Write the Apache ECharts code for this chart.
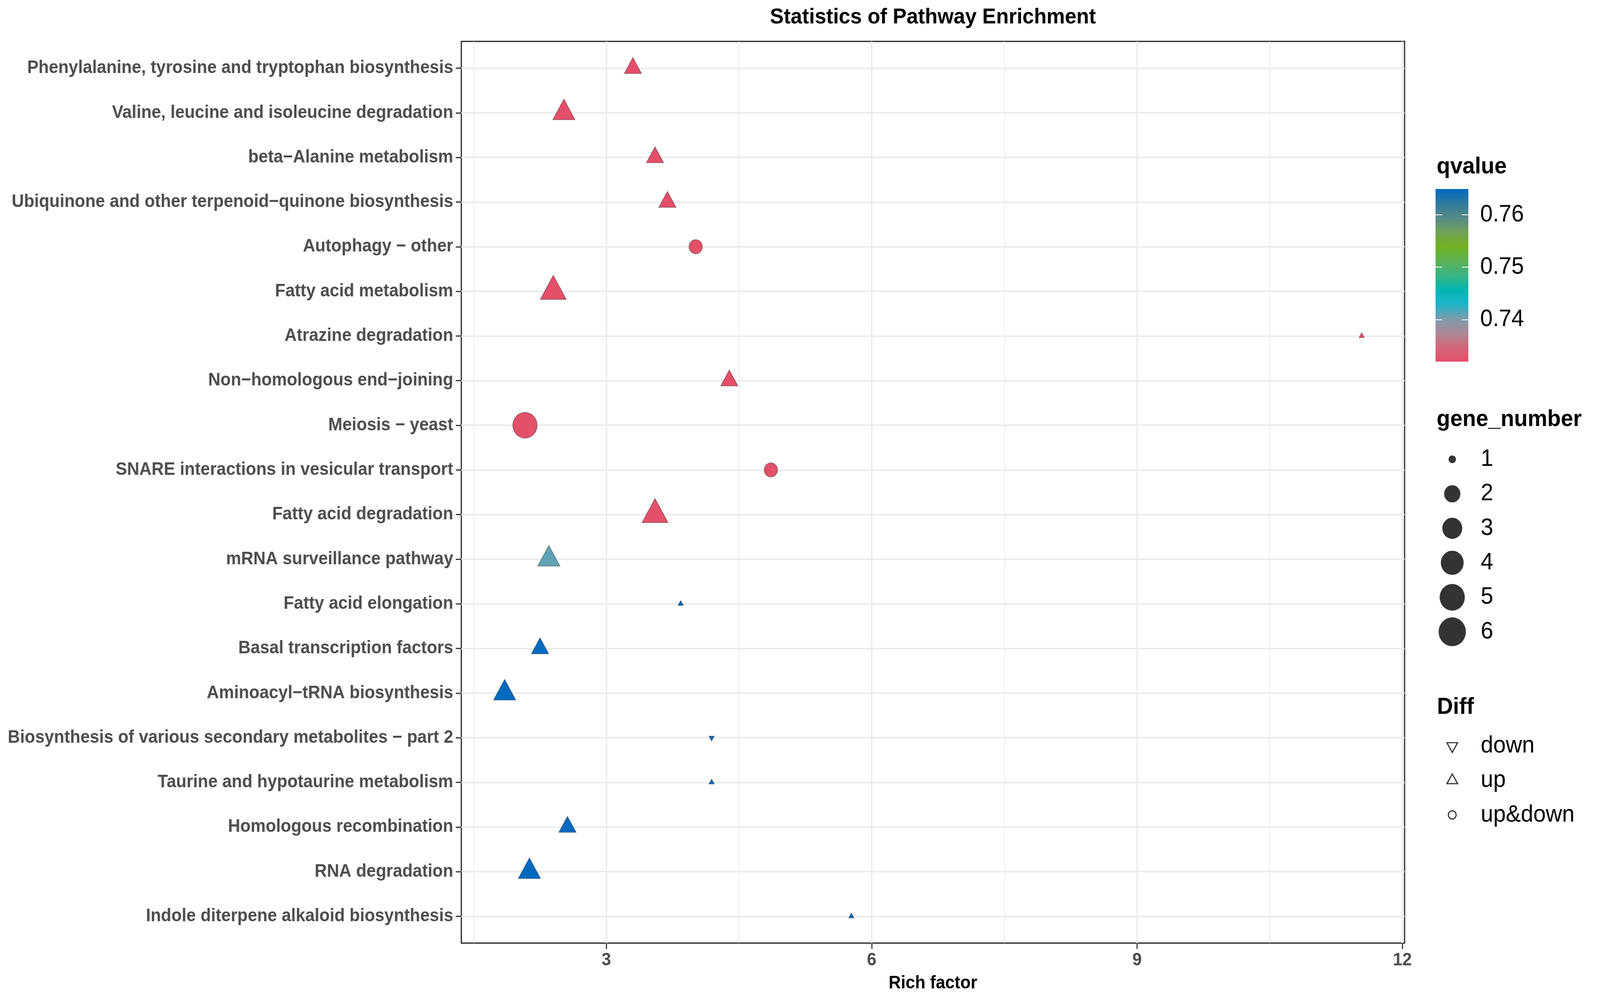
<!DOCTYPE html>
<html><head><meta charset="utf-8">
<script src="https://cdn.jsdelivr.net/npm/echarts@6/dist/echarts.min.js"></script>
<style>html,body{margin:0;padding:0;background:#fff;overflow:hidden}#c{width:4339px;height:2571px;transform-origin:0 0}</style>
</head><body><div id="c"></div>
<script>
// ---------------- data ----------------
const categories = [
  'Phenylalanine, tyrosine and tryptophan biosynthesis',
  'Valine, leucine and isoleucine degradation',
  'beta\u2212Alanine metabolism',
  'Ubiquinone and other terpenoid\u2212quinone biosynthesis',
  'Autophagy \u2212 other',
  'Fatty acid metabolism',
  'Atrazine degradation',
  'Non\u2212homologous end\u2212joining',
  'Meiosis \u2212 yeast',
  'SNARE interactions in vesicular transport',
  'Fatty acid degradation',
  'mRNA surveillance pathway',
  'Fatty acid elongation',
  'Basal transcription factors',
  'Aminoacyl\u2212tRNA biosynthesis',
  'Biosynthesis of various secondary metabolites \u2212 part 2',
  'Taurine and hypotaurine metabolism',
  'Homologous recombination',
  'RNA degradation',
  'Indole diterpene alkaloid biosynthesis'
];
const richFactor = [3.30, 2.52, 3.55, 3.69, 4.01, 2.40, 11.54, 4.39, 2.08, 4.86, 3.55, 2.35, 3.84, 2.25, 1.85, 4.19, 4.19, 2.56, 2.13, 5.77];
const geneNumber = [2, 3, 2, 2, 2, 4, 1, 2, 6, 2, 4, 3, 1, 2, 3, 1, 1, 2, 3, 1];
const qvalue = [0.7320, 0.7320, 0.7320, 0.7320, 0.7320, 0.7320, 0.7320, 0.7320, 0.7320, 0.7320, 0.7320,
                0.7410, 0.7649, 0.7649, 0.7649, 0.7649, 0.7649, 0.7649, 0.7649, 0.7649];
const diff = ['up', 'up', 'up', 'up', 'up&down', 'up', 'up', 'up', 'up&down', 'up&down', 'up', 'up',
              'up', 'up', 'up', 'down', 'up', 'up', 'up', 'up'];
const xTicks = [3, 6, 9, 12];
const xMinorGrid = [1.5, 4.5, 7.5, 10.5];
const qTicks = [0.74, 0.75, 0.76];
const qRange = [0.7320, 0.7649];
const geneLegend = [1, 2, 3, 4, 5, 6];
const diffLegend = ['down', 'up', 'up&down'];
const qColors = ['#E4506A', '#D3667B', '#AD8896', '#7A9CAE', '#1EB4C9', '#00B7B3', '#3AB484',
                 '#5CB255', '#70B120', '#70A25A', '#578A88', '#2F7A9D', '#006AC0'];

// ---------------- fit the 4339x2571 design to the actual viewport ----------------
const W = 4339, H = 2571;
const box = document.getElementById('c');
const sx = window.innerWidth / W, sy = window.innerHeight / H;
if (Math.abs(sx - 1) > 0.002 || Math.abs(sy - 1) > 0.002) box.style.transform = 'scale(' + sx + ',' + sy + ')';

// ---------------- scales ----------------
const FONT = 'Liberation Sans';
const UP = 'path://M1,0L2,1.732L0,1.732Z';
const DOWN = 'path://M0,0L2,0L1,1.732Z';
function legendD(n) { return 20 + 54 * Math.sqrt((n - 1) / 5); }
function markFor(shape, n) {
  if (shape === 'up&down') return { symbol: 'circle', symbolSize: legendD(n) - 8 };
  const w = 1.347 * (legendD(n) - 8), h = 0.88 * w;
  return {
    symbol: shape === 'up' ? UP : DOWN,
    symbolSize: [w - 2, h - 2],
    symbolOffset: [0, shape === 'up' ? '-16.67%' : '16.67%']
  };
}
const mainData = categories.map((c, i) => Object.assign({ value: [richFactor[i], i, qvalue[i], geneNumber[i]] }, markFor(diff[i], geneNumber[i])));
const catIdx = categories.map((c, i) => i);
const geneData = geneLegend.map((n, i) => ({ value: [0, i], symbol: 'circle', symbolSize: legendD(n) }));
const diffData = diffLegend.map((d, i) => {
  const m = d === 'up&down' ? { symbol: 'circle', symbolSize: 21 }
    : { symbol: d === 'up' ? UP : DOWN, symbolSize: [29, 25], symbolOffset: [0, d === 'up' ? '-16.67%' : '16.67%'] };
  return Object.assign({ value: [0, i] }, m);
});
const gradStops = qColors.map((c, i) => ({ offset: i / (qColors.length - 1), color: c }));

const chart = echarts.init(box, null, { renderer: 'canvas', width: W, height: H });
const gridLine = { show: true, lineStyle: { color: '#EBEBEB', width: 4 } };
const tickStyle = { show: true, inside: false, length: 15, lineStyle: { color: '#333333', width: 3 } };
const legendLabel = { show: true, fontFamily: FONT, fontSize: 61, color: '#000', margin: 39 };
const noLine = { show: false, onZero: false };

chart.setOption({
  animation: false,
  backgroundColor: '#ffffff',
  title: [
    { text: 'Statistics of Pathway Enrichment', left: 2530, top: 17, textAlign: 'center', padding: 0,
      textStyle: { fontFamily: FONT, fontSize: 56, fontWeight: 'bold', color: '#000' } },
    { text: 'qvalue', left: 3896, top: 397, padding: 0, textStyle: { fontFamily: FONT, fontSize: 60, fontWeight: 'bold', color: '#000' } },
    { text: 'gene_number', left: 3896, top: 1044, padding: 0, textStyle: { fontFamily: FONT, fontSize: 60, fontWeight: 'bold', color: '#000' } },
    { text: 'Diff', left: 3897, top: 1781, padding: 0, textStyle: { fontFamily: FONT, fontSize: 60, fontWeight: 'bold', color: '#000' } }
  ],
  grid: [
    { left: 1251, top: 106, width: 2558, height: 2309, containLabel: false, outerBoundsMode: 'none',
      show: true, borderColor: '#1a1a1a', borderWidth: 3, backgroundColor: '#fff' },
    { left: 3893, top: 484, width: 89, height: 442, containLabel: false, outerBoundsMode: 'none' },
    { left: 3900, top: 1132, width: 76.6, height: 530, containLabel: false, outerBoundsMode: 'none' },
    { left: 3900, top: 1866, width: 76.6, height: 264.9, containLabel: false, outerBoundsMode: 'none' }
  ],
  xAxis: [
    { gridIndex: 0, type: 'value', min: 1.36, max: 12.025, position: 'bottom',
      name: 'Rich factor', nameLocation: 'middle', nameGap: 80,
      nameTextStyle: { fontFamily: FONT, fontSize: 46, fontWeight: 'bold', color: '#000' },
      axisLine: noLine,
      axisTick: Object.assign({ customValues: xTicks }, tickStyle),
      axisLabel: { customValues: xTicks, fontFamily: FONT, fontSize: 46, fontWeight: 'bold', color: '#4D4D4D', margin: 21 },
      splitLine: gridLine },
    { gridIndex: 0, type: 'value', min: 1.36, max: 12.025, position: 'top',
      axisLine: noLine, axisLabel: { show: false },
      axisTick: { show: false, customValues: xMinorGrid },
      splitLine: { show: true, lineStyle: { color: '#EBEBEB', width: 2 } } },
    { gridIndex: 1, type: 'value', min: 0, max: 1, show: false },
    { gridIndex: 2, type: 'value', min: -1, max: 1, show: false },
    { gridIndex: 3, type: 'value', min: -1, max: 1, show: false }
  ],
  yAxis: [
    { gridIndex: 0, type: 'value', min: -0.6, max: 19.6, inverse: true, position: 'left',
      axisLine: noLine,
      axisTick: Object.assign({ customValues: catIdx }, tickStyle),
      axisLabel: { customValues: catIdx, formatter: v => categories[Math.round(v)],
        fontFamily: FONT, fontSize: 46, fontWeight: 'bold', color: '#4D4D4D', margin: 22 },
      splitLine: gridLine },
    { gridIndex: 1, type: 'value', min: qRange[0], max: qRange[1], position: 'right', z: 10,
      axisLine: noLine, splitLine: { show: false },
      axisTick: { show: true, inside: true, length: 18, customValues: qTicks, lineStyle: { color: '#ffffff', width: 2 } },
      axisLabel: Object.assign({ customValues: qTicks }, legendLabel, { margin: 32 }) },
    { gridIndex: 1, type: 'value', min: qRange[0], max: qRange[1], position: 'left', z: 10,
      axisLine: noLine, splitLine: { show: false }, axisLabel: { show: false },
      axisTick: { show: true, inside: true, length: 18, customValues: qTicks, lineStyle: { color: '#ffffff', width: 2 } } },
    { gridIndex: 2, type: 'category', data: geneLegend.map(String), inverse: true, position: 'right',
      axisLine: noLine, axisTick: { show: false }, splitLine: { show: false }, axisLabel: legendLabel },
    { gridIndex: 3, type: 'category', data: diffLegend, inverse: true, position: 'right',
      axisLine: noLine, axisTick: { show: false }, splitLine: { show: false }, axisLabel: legendLabel }
  ],
  visualMap: [{
    type: 'continuous', show: false, seriesIndex: 0, dimension: 2,
    min: qRange[0], max: qRange[1], inRange: { color: qColors }
  }],
  series: [
    { type: 'scatter', xAxisIndex: 0, yAxisIndex: 0, data: mainData, z: 5,
      itemStyle: { borderColor: 'rgba(0,0,0,0.35)', borderWidth: 2, opacity: 1 } },
    { type: 'custom', xAxisIndex: 2, yAxisIndex: 1, data: [[0, qRange[0]]], z: 2,
      renderItem: (params, api) => {
        const p0 = api.coord([0, qRange[1]]);
        const p1 = api.coord([1, qRange[0]]);
        return { type: 'rect', shape: { x: p0[0], y: p0[1], width: p1[0] - p0[0], height: p1[1] - p0[1] },
          style: { fill: new echarts.graphic.LinearGradient(0, 1, 0, 0, gradStops) } };
      } },
    { type: 'scatter', xAxisIndex: 3, yAxisIndex: 3, data: geneData, itemStyle: { color: '#000' } },
    { type: 'scatter', xAxisIndex: 4, yAxisIndex: 4, data: diffData,
      itemStyle: { color: 'rgba(255,255,255,0)', borderColor: '#000', borderWidth: 3 } }
  ]
});
</script></body></html>
